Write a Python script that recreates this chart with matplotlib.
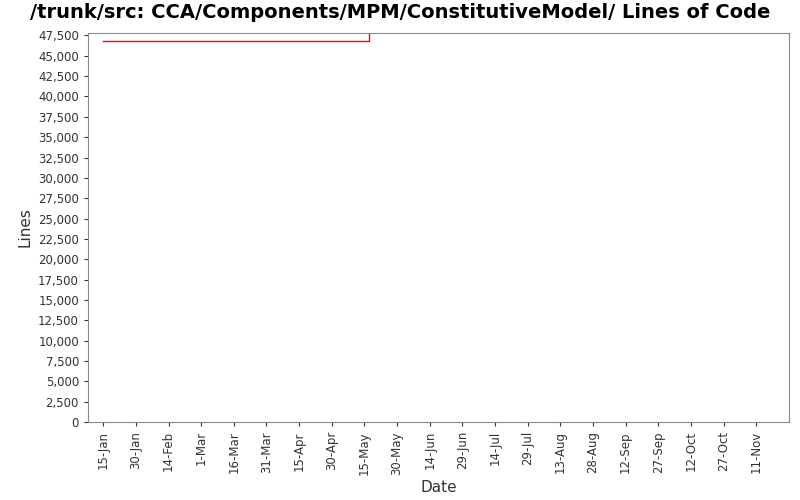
import matplotlib
matplotlib.use("Agg")
import matplotlib.pyplot as plt
import matplotlib.dates as mdates
import datetime as dt
from matplotlib.ticker import FuncFormatter, MultipleLocator

dates = [dt.date(2007,1,15), dt.date(2007,5,17), dt.date(2007,11,19)]
lines = [46760, 47750, 47750]

fig = plt.figure(figsize=(8,5), dpi=100)
ax = fig.add_axes([0.11, 0.156, 0.876, 0.778])
ax.step(dates[:2], [lines[0], lines[1]], where='post', color='#ff0000', lw=1)
ax.plot(dates[1:], lines[1:], color='#990000', lw=1.2)
ax.set_xlim(dt.date(2007,1,8), dt.date(2007,11,26))
ax.set_ylim(0, 47800)
ax.yaxis.set_major_locator(MultipleLocator(2500))
ax.yaxis.set_major_formatter(FuncFormatter(lambda v,p: f"{int(v):,}"))
ticks = [dt.date(2007,1,15)+dt.timedelta(days=15*i) for i in range(21)]
ax.set_xticks(ticks)
ax.xaxis.set_major_formatter(mdates.DateFormatter('%-d-%b'))
plt.setp(ax.get_xticklabels(), rotation=90)
ax.tick_params(labelsize=8.5, colors='#333333', length=3)
for s in ax.spines.values(): s.set_color('#888888')
ax.set_xlabel('Date', fontsize=11, color='#333333')
ax.set_ylabel('Lines', fontsize=11, color='#333333')
fig.suptitle('/trunk/src: CCA/Components/MPM/ConstitutiveModel/ Lines of Code', fontsize=14, fontweight='bold', y=0.995)
fig.savefig('out.png')
